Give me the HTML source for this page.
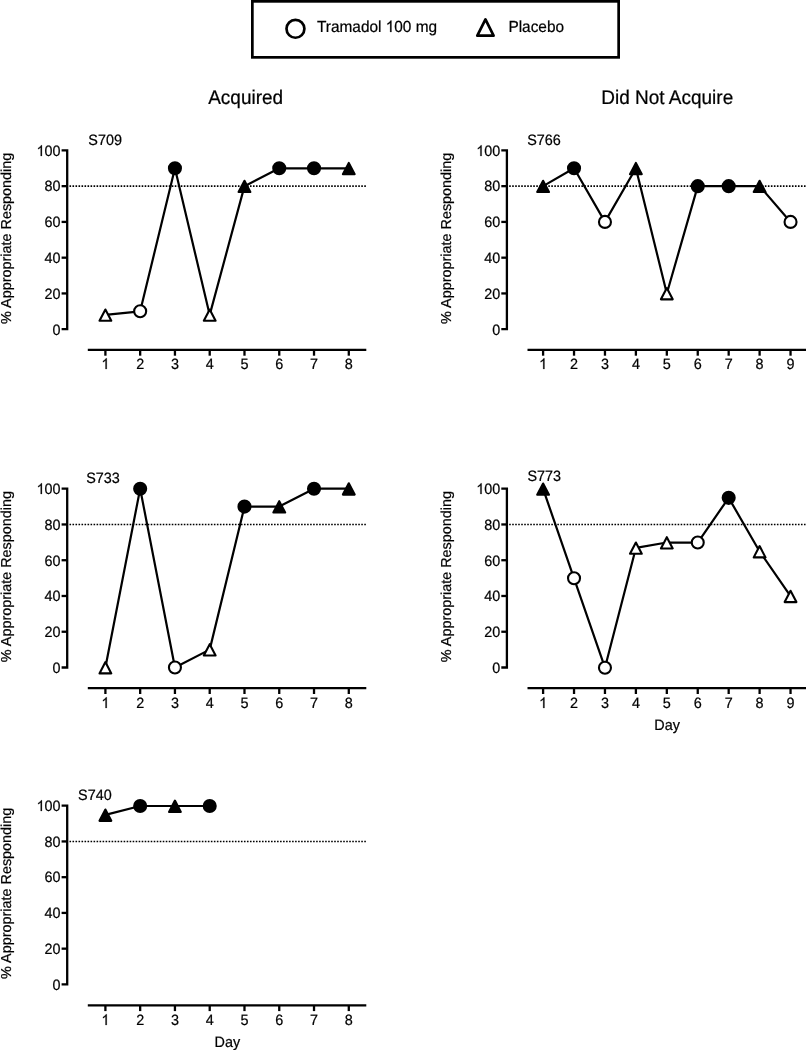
<!DOCTYPE html>
<html><head><meta charset="utf-8"><title>Tramadol acquisition</title>
<style>
html,body{margin:0;padding:0;background:#fff;}
body{width:806px;height:1050px;overflow:hidden;position:relative;}
svg{position:absolute;left:0;top:0;display:block;will-change:transform;}
text{font-family:"Liberation Sans", sans-serif;fill:#000;text-rendering:geometricPrecision;stroke:#000;stroke-width:0.22px;}
.tk{font-size:14.4px;}
.ttl{font-size:19.0px;}
.lg{font-size:15.4px;}
.ax{stroke:#000;stroke-width:2.3;fill:none;stroke-linecap:butt;stroke-linejoin:miter;}
.dot{stroke:#000;stroke-width:1.6;fill:none;stroke-dasharray:1.6 1.408;}
.dl{stroke:#000;stroke-width:2.2;fill:none;stroke-linejoin:round;}
.one{fill:#000;stroke:#000;stroke-width:0.22px;vector-effect:non-scaling-stroke;}
.mk{stroke:#000;stroke-width:2.1;stroke-linejoin:round;}
</style></head><body>
<svg width="806" height="1050" viewBox="0 0 806 1050">
<rect x="252.35" y="1.35" width="366.3" height="56" fill="none" stroke="#000" stroke-width="2.7"/>
<circle cx="295.45" cy="28.8" r="8.95" fill="#fff" stroke="#000" stroke-width="2.7"/>
<text transform="translate(317 32) scale(1 1.04)" class="lg">Tramadol &#8199;00 mg</text><path d="M763 0H583V1147Q518 1085 412.5 1023Q307 961 223 930V1104Q374 1175 487 1276Q600 1377 647 1472H763Z" transform="translate(385.74 32) scale(0.007520 -0.007820)" class="one"/>
<path d="M485.45 19.4L493.6 35.7H477.3z" fill="#fff" stroke="#000" stroke-width="2.7" stroke-linejoin="round"/>
<text transform="translate(508.4 32) scale(1 1.04)" class="lg">Placebo</text>
<text transform="translate(245.65 104) scale(1 1.04)" class="ttl" text-anchor="middle">Acquired</text>
<text transform="translate(667.2 104) scale(1 1.04)" class="ttl" text-anchor="middle">Did Not Acquire</text>
<path d="M61.6 150.4H67.2V329.2H61.6" class="ax"/>
<path d="M61.6 293.44H67.2" class="ax"/>
<path d="M61.6 257.68H67.2" class="ax"/>
<path d="M61.6 221.92H67.2" class="ax"/>
<path d="M61.6 186.16H67.2" class="ax"/>
<text transform="translate(60.6 335) scale(1 1.04)" class="tk" text-anchor="end">0</text>
<text transform="translate(60.6 299) scale(1 1.04)" class="tk" text-anchor="end">20</text>
<text transform="translate(60.6 263) scale(1 1.04)" class="tk" text-anchor="end">40</text>
<text transform="translate(60.6 227) scale(1 1.04)" class="tk" text-anchor="end">60</text>
<text transform="translate(60.6 191) scale(1 1.04)" class="tk" text-anchor="end">80</text>
<text transform="translate(60.6 156) scale(1 1.04)" class="tk" text-anchor="end">&#8199;00</text>
<path d="M763 0H583V1147Q518 1085 412.5 1023Q307 961 223 930V1104Q374 1175 487 1276Q600 1377 647 1472H763Z" transform="translate(36.57 156) scale(0.007031 -0.007313)" class="one"/>
<path d="M87.8 349.9H366.3" class="ax"/>
<path d="M105.4 349.9V355.7" class="ax"/>
<path d="M763 0H583V1147Q518 1085 412.5 1023Q307 961 223 930V1104Q374 1175 487 1276Q600 1377 647 1472H763Z" transform="translate(101.4 369) scale(0.007031 -0.007313)" class="one"/>
<path d="M140.17 349.9V355.7" class="ax"/>
<text transform="translate(140.17 369) scale(1 1.04)" class="tk" text-anchor="middle">2</text>
<path d="M174.94 349.9V355.7" class="ax"/>
<text transform="translate(174.94 369) scale(1 1.04)" class="tk" text-anchor="middle">3</text>
<path d="M209.71 349.9V355.7" class="ax"/>
<text transform="translate(209.71 369) scale(1 1.04)" class="tk" text-anchor="middle">4</text>
<path d="M244.48 349.9V355.7" class="ax"/>
<text transform="translate(244.48 369) scale(1 1.04)" class="tk" text-anchor="middle">5</text>
<path d="M279.25 349.9V355.7" class="ax"/>
<text transform="translate(279.25 369) scale(1 1.04)" class="tk" text-anchor="middle">6</text>
<path d="M314.02 349.9V355.7" class="ax"/>
<text transform="translate(314.02 369) scale(1 1.04)" class="tk" text-anchor="middle">7</text>
<path d="M348.79 349.9V355.7" class="ax"/>
<text transform="translate(348.79 369) scale(1 1.04)" class="tk" text-anchor="middle">8</text>
<path d="M69.48 186.16H366.3" class="dot"/>
<text transform="translate(88.35 145) scale(1 1.04)" class="tk">S709</text>
<text transform="translate(11.05 238.3) rotate(-90)" class="tk" text-anchor="middle">% Appropriate Responding</text>
<polyline points="105.4,314.9 140.17,311.32 174.94,168.28 209.71,314.9 244.48,186.16 279.25,168.28 314.02,168.28 348.79,168.28" class="dl"/>
<path d="M105.4 309.5l5.9 11.3h-11.8z" fill="#fff" class="mk"/>
<circle cx="140.17" cy="311.32" r="6" fill="#fff" class="mk"/>
<circle cx="174.94" cy="168.28" r="6" fill="#000" class="mk"/>
<path d="M209.71 309.5l5.9 11.3h-11.8z" fill="#fff" class="mk"/>
<path d="M244.48 180.76l5.9 11.3h-11.8z" fill="#000" class="mk"/>
<circle cx="279.25" cy="168.28" r="6" fill="#000" class="mk"/>
<circle cx="314.02" cy="168.28" r="6" fill="#000" class="mk"/>
<path d="M348.79 162.88l5.9 11.3h-11.8z" fill="#000" class="mk"/>
<path d="M501.3 150.4H506.9V329.2H501.3" class="ax"/>
<path d="M501.3 293.44H506.9" class="ax"/>
<path d="M501.3 257.68H506.9" class="ax"/>
<path d="M501.3 221.92H506.9" class="ax"/>
<path d="M501.3 186.16H506.9" class="ax"/>
<text transform="translate(500.3 335) scale(1 1.04)" class="tk" text-anchor="end">0</text>
<text transform="translate(500.3 299) scale(1 1.04)" class="tk" text-anchor="end">20</text>
<text transform="translate(500.3 263) scale(1 1.04)" class="tk" text-anchor="end">40</text>
<text transform="translate(500.3 227) scale(1 1.04)" class="tk" text-anchor="end">60</text>
<text transform="translate(500.3 191) scale(1 1.04)" class="tk" text-anchor="end">80</text>
<text transform="translate(500.3 156) scale(1 1.04)" class="tk" text-anchor="end">&#8199;00</text>
<path d="M763 0H583V1147Q518 1085 412.5 1023Q307 961 223 930V1104Q374 1175 487 1276Q600 1377 647 1472H763Z" transform="translate(476.27 156) scale(0.007031 -0.007313)" class="one"/>
<path d="M527.5 349.9H806.5" class="ax"/>
<path d="M543.1 349.9V355.7" class="ax"/>
<path d="M763 0H583V1147Q518 1085 412.5 1023Q307 961 223 930V1104Q374 1175 487 1276Q600 1377 647 1472H763Z" transform="translate(539.1 369) scale(0.007031 -0.007313)" class="one"/>
<path d="M574.03 349.9V355.7" class="ax"/>
<text transform="translate(574.03 369) scale(1 1.04)" class="tk" text-anchor="middle">2</text>
<path d="M604.96 349.9V355.7" class="ax"/>
<text transform="translate(604.96 369) scale(1 1.04)" class="tk" text-anchor="middle">3</text>
<path d="M635.89 349.9V355.7" class="ax"/>
<text transform="translate(635.89 369) scale(1 1.04)" class="tk" text-anchor="middle">4</text>
<path d="M666.82 349.9V355.7" class="ax"/>
<text transform="translate(666.82 369) scale(1 1.04)" class="tk" text-anchor="middle">5</text>
<path d="M697.75 349.9V355.7" class="ax"/>
<text transform="translate(697.75 369) scale(1 1.04)" class="tk" text-anchor="middle">6</text>
<path d="M728.68 349.9V355.7" class="ax"/>
<text transform="translate(728.68 369) scale(1 1.04)" class="tk" text-anchor="middle">7</text>
<path d="M759.61 349.9V355.7" class="ax"/>
<text transform="translate(759.61 369) scale(1 1.04)" class="tk" text-anchor="middle">8</text>
<path d="M790.54 349.9V355.7" class="ax"/>
<text transform="translate(790.54 369) scale(1 1.04)" class="tk" text-anchor="middle">9</text>
<path d="M509.18 186.16H806.5" class="dot"/>
<text transform="translate(527.15 145) scale(1 1.04)" class="tk">S766</text>
<text transform="translate(450.9 238.3) rotate(-90)" class="tk" text-anchor="middle">% Appropriate Responding</text>
<polyline points="543.1,186.16 574.03,168.28 604.96,221.92 635.89,168.28 666.82,293.44 697.75,186.16 728.68,186.16 759.61,186.16 790.54,221.92" class="dl"/>
<path d="M543.1 180.76l5.9 11.3h-11.8z" fill="#000" class="mk"/>
<circle cx="574.03" cy="168.28" r="6" fill="#000" class="mk"/>
<circle cx="604.96" cy="221.92" r="6" fill="#fff" class="mk"/>
<path d="M635.89 162.88l5.9 11.3h-11.8z" fill="#000" class="mk"/>
<path d="M666.82 288.04l5.9 11.3h-11.8z" fill="#fff" class="mk"/>
<circle cx="697.75" cy="186.16" r="6" fill="#000" class="mk"/>
<circle cx="728.68" cy="186.16" r="6" fill="#000" class="mk"/>
<path d="M759.61 180.76l5.9 11.3h-11.8z" fill="#000" class="mk"/>
<circle cx="790.54" cy="221.92" r="6" fill="#fff" class="mk"/>
<path d="M61.6 488.7H67.2V667.5H61.6" class="ax"/>
<path d="M61.6 631.74H67.2" class="ax"/>
<path d="M61.6 595.98H67.2" class="ax"/>
<path d="M61.6 560.22H67.2" class="ax"/>
<path d="M61.6 524.46H67.2" class="ax"/>
<text transform="translate(60.6 673) scale(1 1.04)" class="tk" text-anchor="end">0</text>
<text transform="translate(60.6 637) scale(1 1.04)" class="tk" text-anchor="end">20</text>
<text transform="translate(60.6 601) scale(1 1.04)" class="tk" text-anchor="end">40</text>
<text transform="translate(60.6 566) scale(1 1.04)" class="tk" text-anchor="end">60</text>
<text transform="translate(60.6 530) scale(1 1.04)" class="tk" text-anchor="end">80</text>
<text transform="translate(60.6 494) scale(1 1.04)" class="tk" text-anchor="end">&#8199;00</text>
<path d="M763 0H583V1147Q518 1085 412.5 1023Q307 961 223 930V1104Q374 1175 487 1276Q600 1377 647 1472H763Z" transform="translate(36.57 494) scale(0.007031 -0.007313)" class="one"/>
<path d="M87.8 688.2H366.3" class="ax"/>
<path d="M105.4 688.2V694" class="ax"/>
<path d="M763 0H583V1147Q518 1085 412.5 1023Q307 961 223 930V1104Q374 1175 487 1276Q600 1377 647 1472H763Z" transform="translate(101.4 708) scale(0.007031 -0.007313)" class="one"/>
<path d="M140.17 688.2V694" class="ax"/>
<text transform="translate(140.17 708) scale(1 1.04)" class="tk" text-anchor="middle">2</text>
<path d="M174.94 688.2V694" class="ax"/>
<text transform="translate(174.94 708) scale(1 1.04)" class="tk" text-anchor="middle">3</text>
<path d="M209.71 688.2V694" class="ax"/>
<text transform="translate(209.71 708) scale(1 1.04)" class="tk" text-anchor="middle">4</text>
<path d="M244.48 688.2V694" class="ax"/>
<text transform="translate(244.48 708) scale(1 1.04)" class="tk" text-anchor="middle">5</text>
<path d="M279.25 688.2V694" class="ax"/>
<text transform="translate(279.25 708) scale(1 1.04)" class="tk" text-anchor="middle">6</text>
<path d="M314.02 688.2V694" class="ax"/>
<text transform="translate(314.02 708) scale(1 1.04)" class="tk" text-anchor="middle">7</text>
<path d="M348.79 688.2V694" class="ax"/>
<text transform="translate(348.79 708) scale(1 1.04)" class="tk" text-anchor="middle">8</text>
<path d="M69.48 524.46H366.3" class="dot"/>
<text transform="translate(86.25 483) scale(1 1.04)" class="tk">S733</text>
<text transform="translate(11.05 576.6) rotate(-90)" class="tk" text-anchor="middle">% Appropriate Responding</text>
<polyline points="105.4,667.5 140.17,488.7 174.94,667.5 209.71,649.62 244.48,506.58 279.25,506.58 314.02,488.7 348.79,488.7" class="dl"/>
<path d="M105.4 662.1l5.9 11.3h-11.8z" fill="#fff" class="mk"/>
<circle cx="140.17" cy="488.7" r="6" fill="#000" class="mk"/>
<circle cx="174.94" cy="667.5" r="6" fill="#fff" class="mk"/>
<path d="M209.71 644.22l5.9 11.3h-11.8z" fill="#fff" class="mk"/>
<circle cx="244.48" cy="506.58" r="6" fill="#000" class="mk"/>
<path d="M279.25 501.18l5.9 11.3h-11.8z" fill="#000" class="mk"/>
<circle cx="314.02" cy="488.7" r="6" fill="#000" class="mk"/>
<path d="M348.79 483.3l5.9 11.3h-11.8z" fill="#000" class="mk"/>
<path d="M501.3 488.7H506.9V667.5H501.3" class="ax"/>
<path d="M501.3 631.74H506.9" class="ax"/>
<path d="M501.3 595.98H506.9" class="ax"/>
<path d="M501.3 560.22H506.9" class="ax"/>
<path d="M501.3 524.46H506.9" class="ax"/>
<text transform="translate(500.3 673) scale(1 1.04)" class="tk" text-anchor="end">0</text>
<text transform="translate(500.3 637) scale(1 1.04)" class="tk" text-anchor="end">20</text>
<text transform="translate(500.3 601) scale(1 1.04)" class="tk" text-anchor="end">40</text>
<text transform="translate(500.3 566) scale(1 1.04)" class="tk" text-anchor="end">60</text>
<text transform="translate(500.3 530) scale(1 1.04)" class="tk" text-anchor="end">80</text>
<text transform="translate(500.3 494) scale(1 1.04)" class="tk" text-anchor="end">&#8199;00</text>
<path d="M763 0H583V1147Q518 1085 412.5 1023Q307 961 223 930V1104Q374 1175 487 1276Q600 1377 647 1472H763Z" transform="translate(476.27 494) scale(0.007031 -0.007313)" class="one"/>
<path d="M527.5 688.2H806.5" class="ax"/>
<path d="M543.1 688.2V694" class="ax"/>
<path d="M763 0H583V1147Q518 1085 412.5 1023Q307 961 223 930V1104Q374 1175 487 1276Q600 1377 647 1472H763Z" transform="translate(539.1 708) scale(0.007031 -0.007313)" class="one"/>
<path d="M574.03 688.2V694" class="ax"/>
<text transform="translate(574.03 708) scale(1 1.04)" class="tk" text-anchor="middle">2</text>
<path d="M604.96 688.2V694" class="ax"/>
<text transform="translate(604.96 708) scale(1 1.04)" class="tk" text-anchor="middle">3</text>
<path d="M635.89 688.2V694" class="ax"/>
<text transform="translate(635.89 708) scale(1 1.04)" class="tk" text-anchor="middle">4</text>
<path d="M666.82 688.2V694" class="ax"/>
<text transform="translate(666.82 708) scale(1 1.04)" class="tk" text-anchor="middle">5</text>
<path d="M697.75 688.2V694" class="ax"/>
<text transform="translate(697.75 708) scale(1 1.04)" class="tk" text-anchor="middle">6</text>
<path d="M728.68 688.2V694" class="ax"/>
<text transform="translate(728.68 708) scale(1 1.04)" class="tk" text-anchor="middle">7</text>
<path d="M759.61 688.2V694" class="ax"/>
<text transform="translate(759.61 708) scale(1 1.04)" class="tk" text-anchor="middle">8</text>
<path d="M790.54 688.2V694" class="ax"/>
<text transform="translate(790.54 708) scale(1 1.04)" class="tk" text-anchor="middle">9</text>
<path d="M509.18 524.46H806.5" class="dot"/>
<text transform="translate(527.45 481) scale(1 1.04)" class="tk">S773</text>
<text transform="translate(450.9 576.6) rotate(-90)" class="tk" text-anchor="middle">% Appropriate Responding</text>
<text transform="translate(667.05 730) scale(1 1.04)" class="tk" text-anchor="middle">Day</text>
<polyline points="543.1,488.9 574.03,578.3 604.96,667.7 635.89,547.9 666.82,542.54 697.75,542.54 728.68,497.84 759.61,551.48 790.54,596.18" class="dl"/>
<path d="M543.1 483.5l5.9 11.3h-11.8z" fill="#000" class="mk"/>
<circle cx="574.03" cy="578.3" r="6" fill="#fff" class="mk"/>
<circle cx="604.96" cy="667.7" r="6" fill="#fff" class="mk"/>
<path d="M635.89 542.5l5.9 11.3h-11.8z" fill="#fff" class="mk"/>
<path d="M666.82 537.14l5.9 11.3h-11.8z" fill="#fff" class="mk"/>
<circle cx="697.75" cy="542.54" r="6" fill="#fff" class="mk"/>
<circle cx="728.68" cy="497.84" r="6" fill="#000" class="mk"/>
<path d="M759.61 546.08l5.9 11.3h-11.8z" fill="#fff" class="mk"/>
<path d="M790.54 590.78l5.9 11.3h-11.8z" fill="#fff" class="mk"/>
<path d="M61.6 805.7H67.2V984.4H61.6" class="ax"/>
<path d="M61.6 948.66H67.2" class="ax"/>
<path d="M61.6 912.92H67.2" class="ax"/>
<path d="M61.6 877.18H67.2" class="ax"/>
<path d="M61.6 841.44H67.2" class="ax"/>
<text transform="translate(60.6 990) scale(1 1.04)" class="tk" text-anchor="end">0</text>
<text transform="translate(60.6 954) scale(1 1.04)" class="tk" text-anchor="end">20</text>
<text transform="translate(60.6 918) scale(1 1.04)" class="tk" text-anchor="end">40</text>
<text transform="translate(60.6 882) scale(1 1.04)" class="tk" text-anchor="end">60</text>
<text transform="translate(60.6 847) scale(1 1.04)" class="tk" text-anchor="end">80</text>
<text transform="translate(60.6 811) scale(1 1.04)" class="tk" text-anchor="end">&#8199;00</text>
<path d="M763 0H583V1147Q518 1085 412.5 1023Q307 961 223 930V1104Q374 1175 487 1276Q600 1377 647 1472H763Z" transform="translate(36.57 811) scale(0.007031 -0.007313)" class="one"/>
<path d="M87.8 1005.3H366.3" class="ax"/>
<path d="M105.4 1005.3V1011.1" class="ax"/>
<path d="M763 0H583V1147Q518 1085 412.5 1023Q307 961 223 930V1104Q374 1175 487 1276Q600 1377 647 1472H763Z" transform="translate(101.4 1025) scale(0.007031 -0.007313)" class="one"/>
<path d="M140.17 1005.3V1011.1" class="ax"/>
<text transform="translate(140.17 1025) scale(1 1.04)" class="tk" text-anchor="middle">2</text>
<path d="M174.94 1005.3V1011.1" class="ax"/>
<text transform="translate(174.94 1025) scale(1 1.04)" class="tk" text-anchor="middle">3</text>
<path d="M209.71 1005.3V1011.1" class="ax"/>
<text transform="translate(209.71 1025) scale(1 1.04)" class="tk" text-anchor="middle">4</text>
<path d="M244.48 1005.3V1011.1" class="ax"/>
<text transform="translate(244.48 1025) scale(1 1.04)" class="tk" text-anchor="middle">5</text>
<path d="M279.25 1005.3V1011.1" class="ax"/>
<text transform="translate(279.25 1025) scale(1 1.04)" class="tk" text-anchor="middle">6</text>
<path d="M314.02 1005.3V1011.1" class="ax"/>
<text transform="translate(314.02 1025) scale(1 1.04)" class="tk" text-anchor="middle">7</text>
<path d="M348.79 1005.3V1011.1" class="ax"/>
<text transform="translate(348.79 1025) scale(1 1.04)" class="tk" text-anchor="middle">8</text>
<path d="M69.48 841.44H366.3" class="dot"/>
<text transform="translate(78.05 800) scale(1 1.04)" class="tk">S740</text>
<text transform="translate(11.05 893.3) rotate(-90)" class="tk" text-anchor="middle">% Appropriate Responding</text>
<text transform="translate(227.35 1047) scale(1 1.04)" class="tk" text-anchor="middle">Day</text>
<polyline points="105.4,814.93 140.17,806 174.94,806 209.71,806" class="dl"/>
<path d="M105.4 809.53l5.9 11.3h-11.8z" fill="#000" class="mk"/>
<circle cx="140.17" cy="806" r="6" fill="#000" class="mk"/>
<path d="M174.94 800.6l5.9 11.3h-11.8z" fill="#000" class="mk"/>
<circle cx="209.71" cy="806" r="6" fill="#000" class="mk"/>
</svg>
</body></html>
